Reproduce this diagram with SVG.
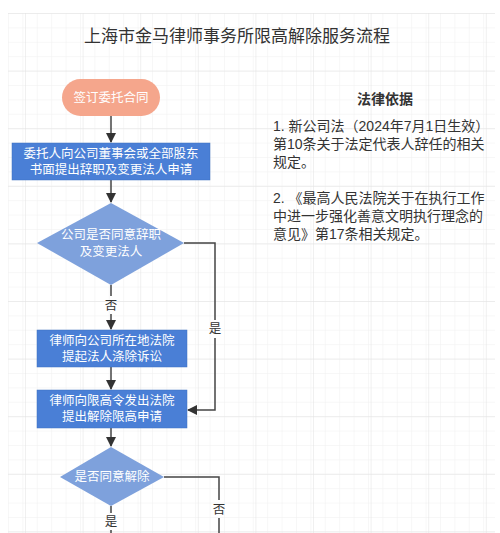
<svg xmlns="http://www.w3.org/2000/svg" width="500" height="533" viewBox="0 0 500 533">
<defs>
<pattern id="minor" x="8" y="13" width="14.4" height="14.4" patternUnits="userSpaceOnUse">
<path d="M0 0H14.4M0 0V14.4" fill="none" stroke="#efefef" stroke-width="1"/>
</pattern>
<pattern id="major" x="25" y="13" width="57.6" height="57.6" patternUnits="userSpaceOnUse">
<path d="M0 0H57.6M0 0V57.6" fill="none" stroke="#e2e2e2" stroke-width="1"/>
</pattern>
<marker id="ah" markerWidth="10" markerHeight="10" refX="9" refY="5" orient="auto" markerUnits="userSpaceOnUse">
<path d="M0 0L10 5L0 10Z" fill="#333"/>
</marker>
<style>
.t{font-family:"Liberation Sans","Noto Sans CJK SC",sans-serif;}
.w{fill:#fff;font-size:12.5px;text-anchor:middle;}
.lbl{fill:#333;font-size:12.5px;text-anchor:middle;}
.c{fill:none;stroke:#444;stroke-width:1.5;}
.box{fill:#4a7fd6;stroke:#3f70c0;stroke-width:0.5;}
.dia{fill:#7ea1dc;}
.p{fill:#333;font-size:14px;}
</style>
</defs>
<rect width="500" height="533" fill="#fff"/>
<rect x="8" y="13" width="487" height="520" fill="url(#minor)"/>
<rect x="8" y="13" width="487" height="520" fill="url(#major)"/>

<text class="t" x="237" y="42" font-size="17" fill="#333" text-anchor="middle">上海市金马律师事务所限高解除服务流程</text>

<g id="connectors">
<line class="c" x1="111" y1="116" x2="111" y2="142" marker-end="url(#ah)"/>
<line class="c" x1="111" y1="180" x2="111" y2="202" marker-end="url(#ah)"/>
<path class="c" d="M111 285V296M111 314V329" marker-end="url(#ah)"/>
<text class="t lbl" x="111" y="310">否</text>
<path class="c" d="M184 243H215V320M215 338V410H188" marker-end="url(#ah)"/>
<text class="t lbl" x="215" y="333">是</text>
<line class="c" x1="111" y1="367" x2="111" y2="389" marker-end="url(#ah)"/>
<line class="c" x1="111" y1="428" x2="111" y2="446" marker-end="url(#ah)"/>
<path class="c" d="M164 477H219V500M219 518V533"/>
<text class="t lbl" x="219" y="514">否</text>
<path class="c" d="M111 506V513M111 530V533"/>
<text class="t lbl" x="111" y="526">是</text>
</g>

<g id="start">
<rect x="62" y="79" width="98" height="37" rx="18.5" fill="#f5a68c"/>
<text class="t w" x="111" y="102">签订委托合同</text>
</g>
<g id="apply">
<rect class="box" x="12" y="143" width="198" height="37"/>
<text class="t w" x="111" y="158">委托人向公司董事会或全部股东</text>
<text class="t w" x="111" y="174">书面提出辞职及变更法人申请</text>
</g>
<g id="decision1">
<path class="dia" d="M111 203L184 243L111 285L37 243Z"/>
<text class="t w" x="111" y="239">公司是否同意辞职</text>
<text class="t w" x="111" y="256">及变更法人</text>
</g>
<g id="lawsuit">
<rect class="box" x="37" y="330" width="150" height="37"/>
<text class="t w" x="112" y="345">律师向公司所在地法院</text>
<text class="t w" x="112" y="361">提起法人涤除诉讼</text>
</g>
<g id="request">
<rect class="box" x="37" y="390" width="150" height="38"/>
<text class="t w" x="112" y="405">律师向限高令发出法院</text>
<text class="t w" x="112" y="421">提出解除限高申请</text>
</g>
<g id="decision2">
<path class="dia" d="M111 447L164 477L111 506L60 477Z"/>
<text class="t w" x="112" y="481">是否同意解除</text>
</g>

<g id="legal">
<text class="t" x="385" y="104" font-size="14" font-weight="bold" fill="#333" text-anchor="middle">法律依据</text>
<text class="t p" x="273" y="131">1. 新公司法（2024年7月1日生效）</text>
<text class="t p" x="273" y="149">第10条关于法定代表人辞任的相关</text>
<text class="t p" x="273" y="167">规定。</text>
<text class="t p" x="273" y="203">2. 《最高人民法院关于在执行工作</text>
<text class="t p" x="273" y="221">中进一步强化善意文明执行理念的</text>
<text class="t p" x="273" y="239">意见》第17条相关规定。</text>
</g>
</svg>
